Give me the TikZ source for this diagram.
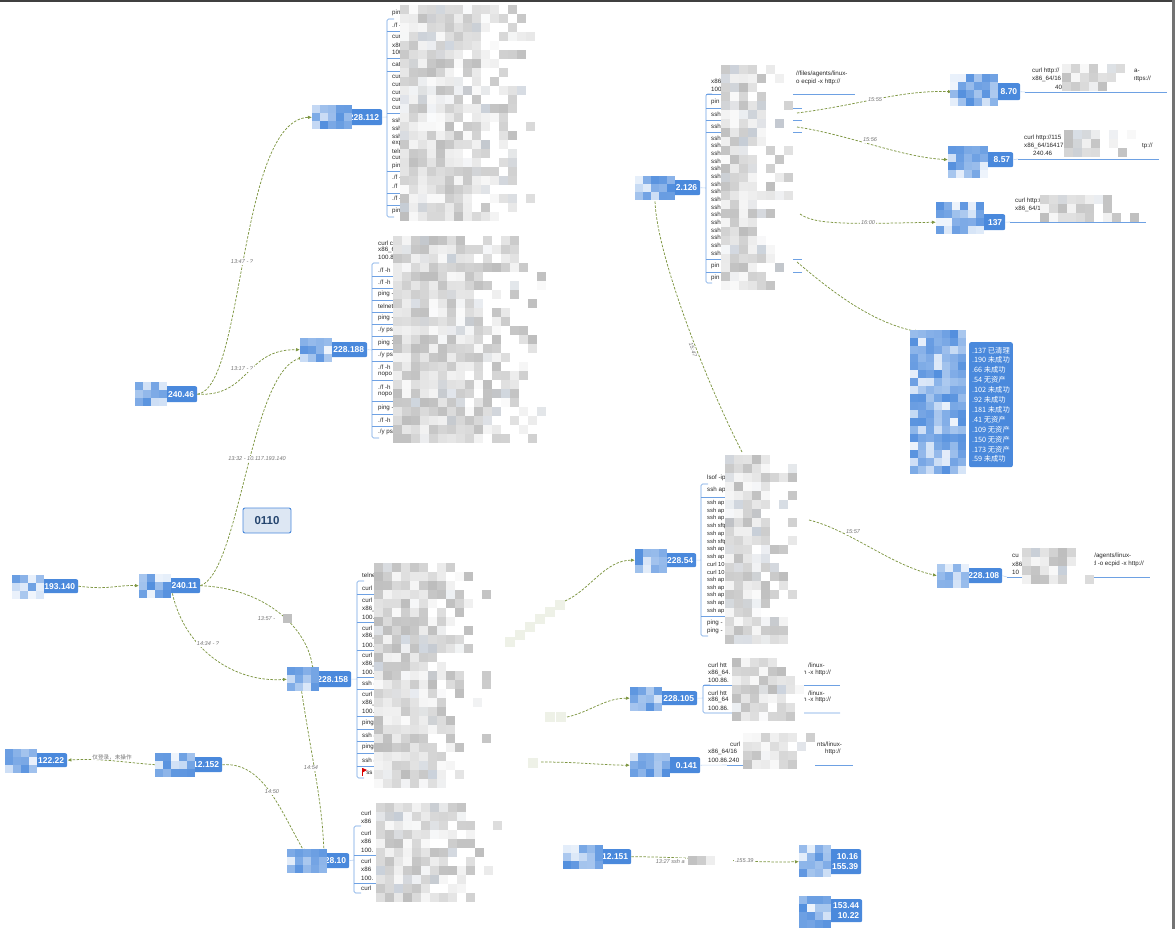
\documentclass[tikz,border=0pt]{standalone}
\usepackage{fontspec}
\setmainfont{Liberation Sans}
\newfontfamily\cjk{Noto Sans CJK SC}
\usetikzlibrary{arrows.meta}

\definecolor{hostblue}{RGB}{74,137,220}
\definecolor{edgegreen}{RGB}{126,150,66}
\definecolor{tagfill}{RGB}{221,231,243}

\tikzset{
  host/.style={rectangle, rounded corners=2pt, fill=hostblue, text=white,
    font=\bfseries\fontsize{8.5}{9.5}\selectfont, inner xsep=3pt, inner ysep=0pt,
    align=right, anchor=north west},
  tag/.style={draw=hostblue, fill=tagfill, rounded corners=2pt, line width=0.9pt,
    minimum width=48pt, minimum height=25pt, text=hostblue!50!black,
    font=\bfseries\fontsize{11.5}{13}\selectfont},
  conn/.style={edgegreen, dash pattern=on 2.5pt off 1.5pt, line width=0.75pt,
    -{Latex[length=4pt,width=3.5pt]}},
  lbl/.style={font=\itshape\fontsize{5.6}{6.5}\selectfont, text=black!55, fill=white, inner sep=0.6pt},
  brk/.style={hostblue!80, line width=0.6pt},
  hlink/.style={hostblue!35, line width=0.6pt},
  item/.style={anchor=west, inner sep=0pt, font=\fontsize{6.2}{7}\selectfont, text=black!85}
}

% host box from its corners
\newcommand{\hostnode}[6]{%
  \pgfmathsetmacro\hw{#4-#2-6}%
  \pgfmathsetmacro\hh{#5-#3}%
  \node[host, text width=\hw pt, minimum height=\hh pt] (#1) at (#2,#3) {#6};}

% pixel blocks over hidden text
\newcommand{\graymosaic}[4]{%
  \foreach \i in {1,...,#3}{%
    \foreach \j in {1,...,#4}{%
      \pgfmathsetmacro\gv{rnd<max(0,\i/#3-0.45)*1.5 ? 0 : 2+rnd*24}%
      \pgfmathsetmacro\bv{rnd<0.14 ? 15+rnd*35 : 0}%
      \fill[hostblue!\bv!black!\gv!white] ({#1+(\i-1)*9},{#2+(\j-1)*9}) rectangle ++(9,9);%
    }}}
\newcommand{\bluemosaic}[4]{%
  \foreach \i in {1,...,#3}{%
    \foreach \j in {1,...,#4}{%
      \pgfmathsetmacro\bv{rnd<0.22 ? 8+rnd*25 : 45+rnd*50}%
      \fill[hostblue!\bv!white] ({#1+(\i-1)*8},{#2+(\j-1)*8}) rectangle ++(8,8);%
    }}}

\begin{document}
\begin{tikzpicture}[x=1pt, y=-1pt]
\useasboundingbox (0,0) rectangle (1175,929);
\pgfmathsetseed{11}
\fill[black!75] (0,0) rectangle (1175,2);
\fill[black!55] (1172,0) rectangle (1175,929);

% hosts
\hostnode{h112}{312}{109}{382}{125}{228.112}
\hostnode{h188}{300}{342}{367}{357}{228.188}
\hostnode{h4046}{135}{386}{197}{402}{240.46}
\hostnode{h193}{12}{579}{78}{593}{193.140}
\hostnode{h24011}{139}{578}{200}{593}{240.11}
\hostnode{h158}{287}{671}{351}{687}{228.158}
\hostnode{h12152}{155}{757}{222}{772}{12.152}
\hostnode{h12222}{5}{753}{67}{767}{122.22}
\hostnode{h2810}{287}{853}{349}{868}{28.10}
\hostnode{h2126}{635}{180}{700}{195}{2.126}
\hostnode{h870}{952}{83}{1020}{100}{8.70}
\hostnode{h857}{948}{152}{1013}{167}{8.57}
\hostnode{h137}{936}{214}{1005}{230}{137}
\hostnode{h22854}{635}{553}{696}{567}{228.54}
\hostnode{h228108}{937}{568}{1002}{583}{228.108}
\hostnode{h228105}{630}{691}{697}{705}{228.105}
\hostnode{h0141}{630}{757}{700}{773}{0.141}
\hostnode{h12151}{563}{849}{631}{864}{12.151}
\hostnode{h1016}{799}{849}{861}{874}{10.16\\155.39}
\hostnode{h15344}{799}{899}{862}{922}{153.44\\10.22}
\node[host, anchor=north east, align=left, inner ysep=2pt, minimum height=125pt,
  font=\cjk\fontsize{7.3}{9.9}\selectfont] (lst) at (1013,342)
  {.137 已清理\\.190 未成功\\.66 未成功\\.54 无资产\\.102 未成功\\.92 未成功\\
   .181 未成功\\.41 无资产\\.109 无资产\\.150 无资产\\.173 无资产\\.59 未成功};

% free ends inside the command lists
\coordinate (pe1) at (797,113);
\coordinate (pe2) at (797,127);
\coordinate (pe3) at (800,214);
\coordinate (pe4) at (797,262);
\coordinate (pf0) at (742,452);
\coordinate (pf1) at (809,520);
\coordinate (pc1) at (565,601);
\coordinate (pc2) at (567,717);
\coordinate (pc3) at (541,762);

% connectors
\draw[conn] (h4046.east) .. controls (245,388) and (238,120) .. (h112.west);
\draw[conn] (h4046.east) .. controls (250,397) and (245,349) .. (h188.west);
\draw[conn] (h24011.east) .. controls (240,572) and (250,372) .. ([xshift=3pt]h188.south west);
\draw[conn] (h193.east) .. controls (110,590) and (115,585) .. (h24011.west);
\draw[conn] (h24011.east) .. controls (265,588) and (308,628) .. ([xshift=26pt]h158.north west);
\draw[conn] ([xshift=-28pt]h24011.south east) .. controls (185,650) and (235,683) .. (h158.west);
\draw[conn] (h12152.west) .. controls (120,762) and (100,758) .. (h12222.east);
\draw[conn] (h12152.east) .. controls (262,762) and (278,805) .. ([xshift=18pt]h2810.north west);
\draw[conn] ([xshift=14pt]h158.south west) .. controls (312,760) and (322,800) .. ([xshift=37pt]h2810.north west);
\draw[conn] (pf0) .. controls (705,380) and (655,250) .. ([xshift=20pt]h2126.south west);
\draw[conn] (pc1) .. controls (590,590) and (605,560) .. (h22854.west);
\draw[conn] (pc2) .. controls (590,712) and (605,698) .. (h228105.west);
\draw[conn] (pc3) .. controls (580,762) and (600,765) .. (h0141.west);
\draw[conn] (pe1) .. controls (860,105) and (900,90) .. (h870.west);
\draw[conn] (pe2) .. controls (850,135) and (900,157) .. (h857.west);
\draw[conn] (pe3) .. controls (815,225) and (850,224) .. (h137.west);
\draw[conn] (pe4) .. controls (830,290) and (870,322) .. ([xshift=-50pt,yshift=10pt]lst.north west);
\draw[conn] (pf1) .. controls (850,530) and (890,565) .. (h228108.west);
\draw[conn] (h12151.east) .. controls (700,857) and (740,863) .. (h1016.west);

% connector labels
\node[lbl] (l1347) at (242,262) {13:47 - ?};
\node[lbl] (l1317) at (242,369) {13:17 - ?};
\node[lbl] (l1332) at (257,459) {13:32 - 10.117.193.140};
\node[lbl, anchor=west] (l1357) at (257,619) {13:57 -};
\graymosaic{283}{614}{4}{1}
\node[lbl] (l1434) at (208,644) {14:34 - ?};
\node[lbl, font=\cjk\fontsize{5.6}{6.5}\selectfont] (lnone) at (112,757) {仅登录，未操作};
\node[lbl] (l1450) at (272,792) {14:50};
\node[lbl] (l1454) at (311,768) {14:54};
\node[lbl, rotate=-71] (l1547) at (693,350) {15:47};
\node[lbl] (l1555) at (875,100) {15:55};
\node[lbl] (l1556) at (870,140) {15:56};
\node[lbl] (l1600) at (868,223) {16:00};
\node[lbl] (l1557) at (853,532) {15:57};
\node[lbl, anchor=west] (l1327) at (655,861) {13:27 ssh a};
\graymosaic{688}{856}{5}{1}
\node[lbl, anchor=west] (l1327b) at (734,861) {.155.39};

\node[tag] (tag) at (267,520.5) {0110};

% command list of 228.112
\draw[hlink] (h112.east) -- (387,117);
\draw[brk, rounded corners=1.5pt] (394,19) -- (387,19) -- (387,217) -- (394,217);
\foreach \yy in {31,58,71,113,171,193,205} \draw[brk] (387,\yy) -- (410,\yy);
\foreach \txt/\yy [count=\n] in {pin/13, {./f -}/25, cur/37, x86/45, 100/52, cat/65, cur/77, cur/85,
  cur/93, cur/100, cur/108, ssh/120, ssh/128, ssh/136, exp/143, teln/151, cur/158, pin/166,
  {./f -}/177, {./f}/186, {./f -}/198, pin/211}
  \node[item] (pa\n) at (392,\yy) {\txt};
\graymosaic{400}{5}{15}{24}

% command list of 228.188
\draw[hlink] (h188.east) -- (372,350);
\draw[brk, rounded corners=1.5pt] (379,263) -- (372,263) -- (372,438) -- (379,438);
\foreach \yy in {276,288,300,312,324,336,349,361,380,401,414,426} \draw[brk] (372,\yy) -- (400,\yy);
\foreach \txt/\yy [count=\n] in {{curl c}/243, {x86\_6}/250, {100.8}/257, {./f -h}/270, {./f -h}/282,
  {ping -}/294, telnet/306, {ping -}/318, {./y ps}/330, {ping 1}/343, {./y ps}/355, {./f -h}/367,
  nopo/374, {./f -h}/387, nopo/394, {ping -}/408, {./f -h}/420, {./y ps}/432}
  \node[item] (pb\n) at (378,\yy) {\txt};
\graymosaic{393}{236}{17}{23}

% command list of 228.158
\draw[hlink] (h158.east) -- (357,679);
\draw[brk, rounded corners=1.5pt] (364,581) -- (357,581) -- (357,778) -- (364,778);
\foreach \yy in {594,622,650,677,689,716,729,741,753,766} \draw[brk] (357,\yy) -- (380,\yy);
\foreach \txt/\yy [count=\n] in {telne/575, curl/588, curl/600, x86\_/609, 100./617, curl/628,
  x86\_/636, 100./645, curl/655, x86\_/664, 100./672, {ssh a}/683, curl/694, x86\_/703, 100./711,
  ping/723, {ssh a}/735, ping/747, {ssh a}/760, {\phantom{P}ss}/772}
  \node[item] (pc\n) at (362,\yy) {\txt};
\draw[red!85!black, line width=0.5pt] (362.5,768) -- (362.5,776);
\fill[red!85!black] (362.5,768) -- (367,770) -- (362.5,772.5) -- cycle;
\graymosaic{374}{563}{13}{25}

% command list of 28.10
\draw[hlink] (h2810.east) -- (354,860);
\draw[brk, rounded corners=1.5pt] (361,826) -- (354,826) -- (354,893) -- (361,893);
\foreach \yy in {855,883} \draw[brk] (354,\yy) -- (380,\yy);
\foreach \txt/\yy [count=\n] in {curl/813, x86/821, curl/833, x86/841, 100./850, curl/861,
  x86/869, 100./878, curl/888}
  \node[item] (pd\n) at (361,\yy) {\txt};
\graymosaic{376}{803}{14}{11}

% command list of 2.126
\draw[hlink] (h2126.east) -- (706,188);
\draw[brk] (706,94) -- (855,94);
\draw[brk, rounded corners=1.5pt] (712,94) -- (706,94) -- (706,283) -- (712,283);
\foreach \yy in {108,120,132,259,272} \draw[brk] (706,\yy) -- (802,\yy);
\foreach \txt/\yy [count=\n] in {x86/81, 100/89, pin/102, ssh/114, ssh/126, pin/266, pin/278}
  \node[item] (pe\n) at (711,\yy) {\txt};
\foreach \k in {0,...,15}
  \node[item] (ps\k) at (711,{138+\k*7.67}) {ssh};
\node[item] (pet1) at (796,74) {//files/agents/linux-};
\node[item] (pet2) at (796,82) {o ecpid -x http://};
\graymosaic{721}{65}{8}{25}

% command list of 228.54
\draw[hlink] (h22854.east) -- (701,560);
\draw[brk, rounded corners=1.5pt] (708,484) -- (701,484) -- (701,636) -- (708,636);
\foreach \yy in {497,616} \draw[brk] (701,\yy) -- (730,\yy);
\foreach \txt/\yy [count=\n] in {{lsof -ip}/478, {ssh ap}/490, {ping -}/623, {ping -}/631}
  \node[item] (pf\n) at (707,\yy) {\txt};
\foreach \txt [count=\k from 0] in {ssh ap, ssh ap, ssh ap, ssh sftp, ssh ap, ssh sftp, ssh ap,
  ssh ap, curl 10, curl 10, ssh ap, ssh ap, ssh ap, ssh ap, ssh ap}
  \node[item, font=\fontsize{5.8}{6.5}\selectfont] (pg\k) at (707,{503+\k*7.7}) {\txt};
\graymosaic{725}{455}{8}{21}

% single commands on the right
\draw[hlink] (h228108.east) -- (1007,577);
\draw[brk] (1007,577) -- (1150,577);
\foreach \txt/\xx/\yy [count=\n] in {cu/1012/556, x86/1012/564, 10/1012/572,
  {s/agents/linux-}/1091/556, {id -o ecpid -x http://}/1091/564}
  \node[item] (ph\n) at (\xx,\yy) {\txt};
\graymosaic{1022}{548}{8}{4}

\draw[hlink] (h228105.east) -- (703,698);
\draw[brk] (703,685) -- (840,685);
\draw[brk, rounded corners=1.5pt] (710,685) -- (703,685) -- (703,713) -- (840,713);
\foreach \txt/\xx/\yy [count=\n] in {{curl htt}/708/665, {x86\_64.}/708/673, {100.86.}/708/680,
  {/linux-}/808/665, {h -x http://}/803/673, {curl htt}/708/693, {x86\_64}/708/700,
  {100.86.}/708/708, {/linux-}/808/693, {h -x http://}/803/700}
  \node[item] (pi\n) at (\xx,\yy) {\txt};
\graymosaic{732}{658}{8}{7}

\draw[hlink] (h0141.east) -- (727,765);
\draw[brk] (727,765) -- (853,765);
\foreach \txt/\xx/\yy [count=\n] in {curl/730/744, {nts/linux-}/817/744, {x86\_64/16}/708/752,
  {http://}/825/752, {100.86.240}/708/760}
  \node[item] (pj\n) at (\xx,\yy) {\txt};
\graymosaic{743}{733}{8}{4}

\draw[hlink] (h870.east) -- (1025,92);
\draw[brk] (1025,92) -- (1167,92);
\foreach \txt/\xx/\yy [count=\n] in {{curl http://}/1032/71, {x86\_64/16}/1032/79, 40/1055/87,
  a-/1134/71, {https://}/1132/79}
  \node[item] (pk\n) at (\xx,\yy) {\txt};
\graymosaic{1062}{64}{8}{3}

\draw[hlink] (h857.east) -- (1018,159);
\draw[brk] (1018,159) -- (1159,159);
\foreach \txt/\xx/\yy [count=\n] in {{curl http://115}/1024/138, {x86\_64/16417}/1024/146,
  240.46/1033/153, {tp://}/1142/146}
  \node[item] (pl\n) at (\xx,\yy) {\txt};
\graymosaic{1064}{130}{8}{3}

\draw[hlink] (h137.east) -- (1010,222);
\draw[brk] (1010,222) -- (1146,222);
\foreach \txt/\xx/\yy [count=\n] in {{curl http://}/1015/201, {x86\_64/1}/1015/209}
  \node[item] (pm\n) at (\xx,\yy) {\txt};
\graymosaic{1040}{195}{11}{3}

% faint blocks on the hidden connector starts
\foreach \xx/\yy in {505/637, 515/630, 525/622, 535/614, 545/607, 555/600, 545/712, 556/712, 528/758}
  \fill[edgegreen!13!white] (\xx,\yy) rectangle ++(10,10);

% pixel blocks over the host names
\bluemosaic{312}{105}{5}{3}
\bluemosaic{300}{338}{4}{3}
\bluemosaic{135}{382}{4}{3}
\bluemosaic{12}{575}{4}{3}
\bluemosaic{139}{574}{4}{3}
\bluemosaic{287}{667}{4}{3}
\bluemosaic{155}{753}{5}{3}
\bluemosaic{5}{749}{4}{3}
\bluemosaic{287}{849}{5}{3}
\bluemosaic{635}{176}{5}{3}
\bluemosaic{950}{74}{6}{4}
\bluemosaic{948}{146}{5}{4}
\bluemosaic{936}{202}{6}{4}
\bluemosaic{635}{549}{4}{3}
\bluemosaic{937}{564}{4}{3}
\bluemosaic{630}{687}{4}{3}
\bluemosaic{630}{753}{5}{3}
\bluemosaic{563}{845}{5}{3}
\bluemosaic{799}{845}{4}{4}
\bluemosaic{799}{896}{4}{4}
\bluemosaic{910}{330}{7}{18}
\end{tikzpicture}
\end{document}
